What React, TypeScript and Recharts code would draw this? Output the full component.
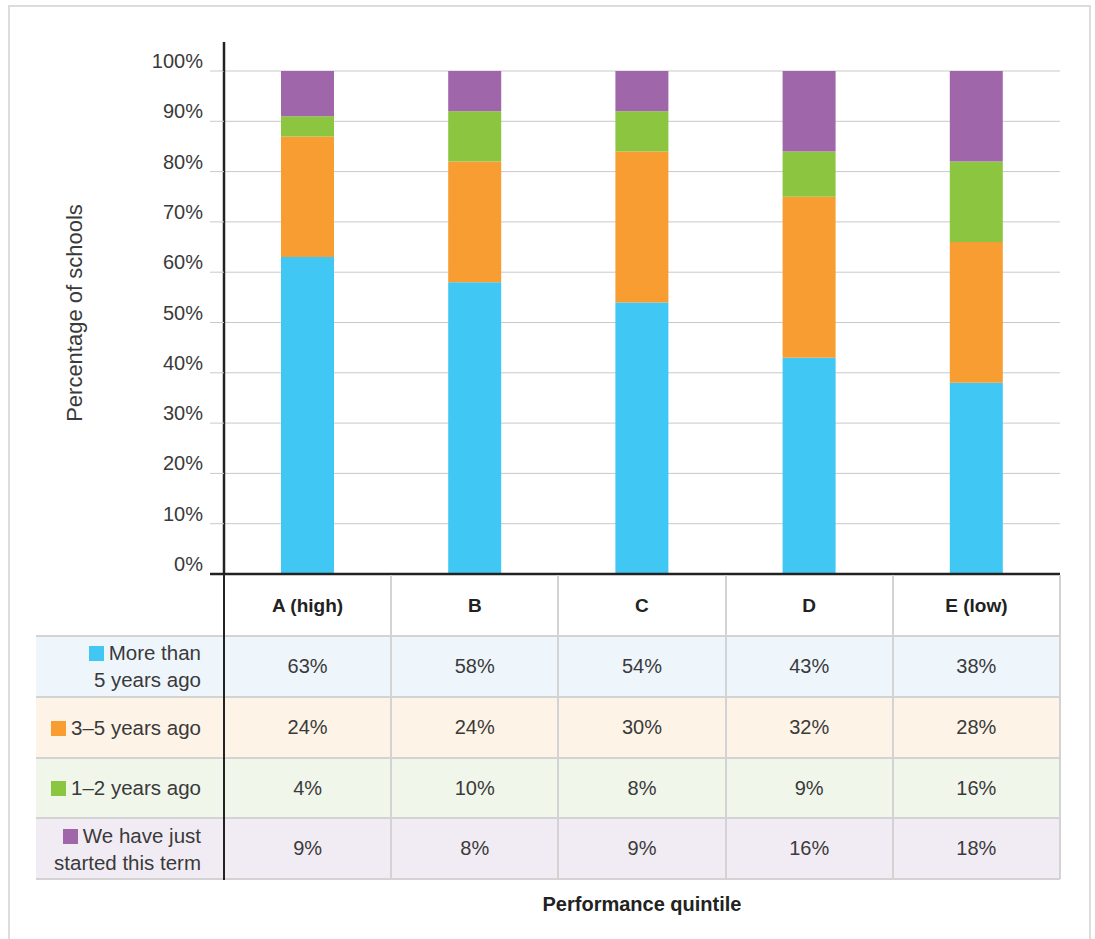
import { Bar, BarChart, CartesianGrid, ReferenceLine, XAxis, YAxis } from "recharts"

const categories = ["A (high)", "B", "C", "D", "E (low)"]
const moreThan5 = [63, 58, 54, 43, 38]
const threeTo5 = [24, 24, 30, 32, 28]
const oneTo2 = [4, 10, 8, 9, 16]
const justStarted = [9, 8, 9, 16, 18]
const yTicks = [0, 10, 20, 30, 40, 50, 60, 70, 80, 90, 100]

const series = [
  { key: "more5", values: moreThan5, lines: ["More than", "5 years ago"], color: "#40c7f4", bg: "#eef6fc" },
  { key: "three5", values: threeTo5, lines: ["3–5 years ago"], color: "#f79d32", bg: "#fdf3e6" },
  { key: "one2", values: oneTo2, lines: ["1–2 years ago"], color: "#8cc641", bg: "#f0f6ea" },
  { key: "just", values: justStarted, lines: ["We have just", "started this term"], color: "#a066aa", bg: "#f1ecf4" },
]

const data = categories.map((name, i) => {
  const row: Record<string, string | number> = { name }
  series.forEach((s) => (row[s.key] = s.values[i]))
  return row
})

const FONT = "'Liberation Sans', Arial, Helvetica, sans-serif"
const TEXT = "#3a3a3a"
const GRID = "#c9c9c9"

// plot geometry
const PLOT_LEFT = 224
const PLOT_RIGHT = 1060
const PLOT_TOP = 71
const PLOT_BOTTOM = 574
const colW = (PLOT_RIGHT - PLOT_LEFT) / categories.length
const TABLE_LEFT = 36
const HEADER_TOP = 575
const ROW_TOP = 636
const ROW_H = 60.75

function YTick(props: any) {
  const { x, y, payload } = props
  const isZero = payload.value === 0
  return (
    <g>
      <line x1={x + 7} x2={x + 21} y1={y} y2={y} stroke={isZero ? "#222" : GRID} strokeWidth={isZero ? 2.5 : 1} />
      {payload.value === 100 && <line x1={x + 21} x2={x + 21} y1={y} y2={42} stroke="#222" strokeWidth={2.5} />}
      <text x={x} y={y} dy={-3} textAnchor="end" fill={TEXT} fontSize={20} fontFamily={FONT}>
        {payload.value}%
      </text>
    </g>
  )
}

export default function App() {
  return (
    <div style={{ position: "absolute", left: 0, top: 0, width: 1095, height: 939, fontFamily: FONT, color: TEXT, overflow: "hidden" }}>
      <div style={{ position: "absolute", left: 8, top: 5, width: 1083, height: 960, border: "2px solid #dcdcdc", boxSizing: "border-box" }} />

      <div style={{ position: "absolute", left: 0, top: 0 }}>
        <BarChart
          width={1095}
          height={600}
          data={data}
          margin={{ top: PLOT_TOP, right: 1095 - PLOT_RIGHT, left: 1, bottom: 600 - PLOT_BOTTOM }}
          barSize={53}
        >
          <CartesianGrid vertical={false} stroke={GRID} />
          <XAxis dataKey="name" hide />
          <YAxis
            type="number"
            width={PLOT_LEFT - 1}
            domain={[0, 100]}
            ticks={yTicks}
            allowDataOverflow
            tickSize={14}
            tickMargin={7}
            tickLine={false}
            tick={YTick}
            axisLine={{ stroke: "#222", strokeWidth: 2.5 }}
          />
          {series.map((s) => (
            <Bar key={s.key} dataKey={s.key} stackId="a" fill={s.color} isAnimationActive={false} />
          ))}
          <ReferenceLine y={0} stroke="#222" strokeWidth={2.5} />
        </BarChart>
      </div>

      <div
        style={{
          position: "absolute",
          left: 75 - 160,
          top: 313 - 13,
          width: 320,
          height: 26,
          lineHeight: "26px",
          textAlign: "center",
          fontSize: 22,
          transform: "rotate(-90deg)",
        }}
      >
        Percentage of schools
      </div>

      {/* data table */}
      {series.map((s, r) => (
        <div
          key={s.key}
          style={{
            position: "absolute",
            left: TABLE_LEFT,
            top: ROW_TOP + r * ROW_H,
            width: PLOT_RIGHT - TABLE_LEFT,
            height: ROW_H,
            background: s.bg,
          }}
        >
          <div
            style={{
              position: "absolute",
              left: 0,
              top: 0,
              width: PLOT_LEFT - TABLE_LEFT - 23,
              height: ROW_H,
              display: "flex",
              flexDirection: "column",
              alignItems: "flex-end",
              justifyContent: "center",
              fontSize: 20.5,
              lineHeight: "27px",
            }}
          >
            {s.lines.map((ln, j) => (
              <div key={j} style={{ whiteSpace: "nowrap" }}>
                {j === 0 && (
                  <span
                    style={{ display: "inline-block", width: 15, height: 15, background: s.color, marginRight: 5, verticalAlign: "-1px" }}
                  />
                )}
                {ln}
              </div>
            ))}
          </div>
          {s.values.map((v, c) => (
            <div
              key={c}
              style={{
                position: "absolute",
                left: PLOT_LEFT - TABLE_LEFT + c * colW,
                top: 0,
                width: colW,
                height: ROW_H,
                lineHeight: `${ROW_H}px`,
                textAlign: "center",
                fontSize: 20,
              }}
            >
              {v}%
            </div>
          ))}
        </div>
      ))}

      {categories.map((cat, c) => (
        <div
          key={cat}
          style={{
            position: "absolute",
            left: PLOT_LEFT + c * colW,
            top: HEADER_TOP,
            width: colW,
            height: ROW_TOP - HEADER_TOP,
            lineHeight: `${ROW_TOP - HEADER_TOP}px`,
            textAlign: "center",
            fontSize: 19,
            fontWeight: "bold",
            color: "#222",
          }}
        >
          {cat}
        </div>
      ))}

      {/* horizontal rules */}
      {[0, 1, 2, 3, 4].map((r) => (
        <div
          key={"h" + r}
          style={{
            position: "absolute",
            left: TABLE_LEFT,
            top: ROW_TOP + r * ROW_H - 1,
            width: PLOT_RIGHT - TABLE_LEFT,
            height: 2,
            background: "#d3d3d3",
          }}
        />
      ))}
      {/* vertical rules */}
      {[1, 2, 3, 4, 5].map((c) => (
        <div
          key={"v" + c}
          style={{
            position: "absolute",
            left: PLOT_LEFT + c * colW - 1,
            top: HEADER_TOP,
            width: 2,
            height: ROW_TOP + 4 * ROW_H - HEADER_TOP,
            background: "#d3d3d3",
          }}
        />
      ))}
      <div
        style={{
          position: "absolute",
          left: PLOT_LEFT - 1.25,
          top: PLOT_BOTTOM,
          width: 2.5,
          height: ROW_TOP + 4 * ROW_H - PLOT_BOTTOM + 1,
          background: "#222",
        }}
      />

      <div
        style={{
          position: "absolute",
          left: PLOT_LEFT,
          top: 893,
          width: PLOT_RIGHT - PLOT_LEFT,
          textAlign: "center",
          fontSize: 20,
          fontWeight: "bold",
          color: "#222",
        }}
      >
        Performance quintile
      </div>
    </div>
  )
}
